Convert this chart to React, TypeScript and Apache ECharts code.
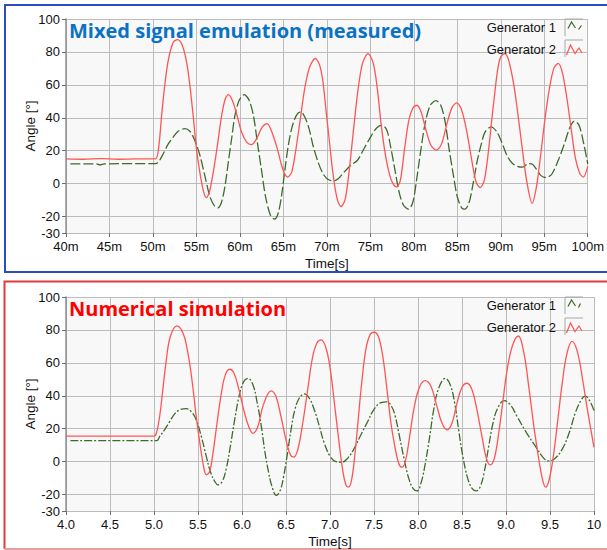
import React, { useEffect, useRef } from 'react';
import * as echarts from 'echarts';

// Generator rotor angles [deg] vs time. Measured run: time in ms; simulation: time in s.
const measuredGen1: [number, number][] = [
  [40.5, 12], [43.5, 12], [43.9, 11.4], [44.4, 12], [50.27, 12.2], [50.64, 13.2], [51.2, 18.3], [51.78, 24.3],
  [52.35, 28.4], [52.9, 31.8], [53.67, 33.4], [54.24, 31.8], [54.8, 26.4], [55.4, 17.2], [55.95, 5.1], [56.5, -7],
  [57.0, -13], [57.46, -14.7], [57.9, -11], [58.3, -1], [58.67, 13.2], [59.05, 27.4], [59.43, 41.5], [59.92, 50.6],
  [60.5, 54], [61.06, 50.6], [61.55, 41.5], [62.0, 25.3], [62.46, 9.1], [62.95, -8], [63.5, -19], [63.98, -21.6],
  [64.4, -18], [64.8, -7], [65.19, 9.1], [65.57, 23.3], [66.0, 34.5], [66.5, 41.5], [67.0, 43.6], [67.46, 40.5],
  [67.95, 33.4], [68.4, 23.3], [68.98, 13.2], [69.55, 6.1], [70.1, 2.7], [70.8, 1.7], [71.33, 3.1], [72.0, 7.1],
  [72.77, 11.2], [73.52, 14.2], [74.28, 21.3], [75.04, 28.4], [75.72, 33.8], [76.36, 35.5], [76.9, 32.4], [77.3, 23.3],
  [77.8, 9.1], [78.3, -5], [78.8, -13], [79.4, -15.5], [79.9, -11], [80.34, 3.1], [80.83, 21.3], [81.33, 37.5],
  [81.9, 47.6], [82.54, 50.4], [83.1, 47.6], [83.6, 37.5], [84.05, 21.3], [84.55, 5.1], [85.0, -8], [85.5, -14.7],
  [85.87, -15.5], [86.33, -12], [86.78, -1], [87.27, 13.2], [87.77, 24.3], [88.2, 31.4], [88.9, 34.5], [89.55, 31.4],
  [90.1, 25.3], [90.7, 17.2], [91.3, 12.5], [91.9, 10.5], [92.5, 10], [93.2, 12.2], [93.65, 11.8], [94.2, 8],
  [94.6, 5], [95.0, 3.8], [95.4, 4], [95.9, 6], [96.6, 14], [97.3, 24], [97.9, 33.5], [98.45, 38], [99.0, 35.5],
  [99.55, 24], [100, 12],
];

const measuredGen2: [number, number][] = [
  [40, 15], [42, 14.8], [44, 15.2], [46, 14.8], [48, 15], [50.27, 15], [50.64, 21.3], [51.0, 41.5], [51.4, 61.8],
  [51.8, 76], [52.35, 86], [52.84, 87.5], [53.37, 84], [53.86, 74], [54.24, 60], [54.62, 41.5], [55.0, 21.3],
  [55.45, 5], [55.83, -5], [56.14, -8.5], [56.5, -5], [57.0, 9], [57.46, 25], [57.9, 41.5], [58.33, 51.7],
  [58.67, 54], [59.17, 50], [59.66, 41.5], [60.19, 31.4], [60.8, 25], [61.33, 23.7], [61.93, 27.4], [62.58, 34.5],
  [63.14, 36.5], [63.67, 31.4], [64.24, 22.3], [64.8, 11], [65.19, 5.5], [65.5, 4], [65.95, 7], [66.33, 17],
  [66.9, 37.5], [67.46, 58], [68.03, 71], [68.67, 76], [69.17, 72], [69.55, 61.8], [69.92, 43.6], [70.3, 25.3],
  [70.68, 7], [71.17, -9], [71.63, -14], [72.08, -10], [72.46, 3], [72.84, 21.3], [73.2, 39.5], [73.6, 57.7],
  [74.1, 73], [74.73, 79], [75.34, 73], [75.8, 57.7], [76.25, 35.5], [76.74, 17.2], [77.23, 5], [77.6, 0],
  [78.0, -2], [78.45, 2], [78.94, 21.3], [79.43, 38.5], [79.9, 46], [80.34, 47.6], [80.83, 43.6], [81.4, 32.4],
  [81.97, 23.3], [82.6, 20.3], [83.2, 24.3], [83.86, 37.5], [84.43, 46.6], [84.92, 49], [85.5, 44.6], [86.06, 32.4],
  [86.63, 15.2], [87.16, 1], [87.65, -2.4], [88.1, 2], [88.48, 15.2], [88.9, 35.5], [89.28, 53.7], [89.66, 69.9],
  [90.0, 77], [90.45, 79], [90.9, 75], [91.5, 60], [92.0, 41], [92.5, 20], [93.0, 1], [93.6, -12], [94.1, -2],
  [94.6, 18], [95.1, 40], [95.6, 58], [96.1, 70], [96.6, 73], [97.1, 67], [97.6, 52], [98.1, 33], [98.6, 15],
  [99.1, 6], [99.5, 4], [100, 10.5],
];

const simulatedGen1: [number, number][] = [
  [4.05, 12.8], [5.03, 12.8], [5.064, 15.2], [5.12, 19.3], [5.178, 24.3], [5.235, 29], [5.29, 31.4], [5.367, 32.2],
  [5.424, 30.4], [5.48, 25.3], [5.538, 15.2], [5.595, 3], [5.64, -6], [5.69, -12], [5.727, -14.1], [5.776, -12],
  [5.822, -4], [5.867, 9.1], [5.913, 24.3], [5.962, 38.5], [6.01, 47.6], [6.068, 50.6], [6.125, 46.6], [6.17, 36.5],
  [6.22, 21.3], [6.26, 6], [6.3, -6], [6.34, -15], [6.39, -20.5], [6.436, -17.2], [6.473, -9], [6.511, 3],
  [6.557, 19.3], [6.6, 31.4], [6.65, 38.5], [6.708, 41.1], [6.765, 38.5], [6.822, 31.4], [6.88, 21.3], [6.935, 11.2],
  [7.004, 3], [7.068, 0], [7.133, -0.4], [7.2, 2], [7.276, 8.1], [7.35, 16.2], [7.428, 24.3], [7.5, 31.8],
  [7.58, 35.9], [7.644, 36.3], [7.7, 33.5], [7.742, 27.4], [7.79, 15.2], [7.845, 1], [7.894, -10], [7.943, -16.2],
  [7.99, -17.8], [8.034, -13.1], [8.083, -1], [8.133, 15.2], [8.178, 31.4], [8.235, 44.6], [8.31, 50.6], [8.367, 46.6],
  [8.417, 35.5], [8.462, 19.3], [8.51, 3], [8.564, -10], [8.614, -16.2], [8.663, -17.8], [8.708, -15.1], [8.754, -6],
  [8.803, 9.1], [8.852, 23.3], [8.905, 32.4], [8.98, 37], [9.05, 34.5], [9.13, 27], [9.23, 17.8], [9.33, 9.7],
  [9.42, 2.6], [9.48, 0.4], [9.55, 1.6], [9.64, 7.7], [9.72, 17.8], [9.79, 30], [9.86, 38], [9.9, 39.8],
  [9.95, 37], [10, 31],
];

const simulatedGen2: [number, number][] = [
  [4.0, 15.5], [5.0, 15.5], [5.027, 17.2], [5.064, 27.4], [5.1, 43.6], [5.14, 61.8], [5.186, 76], [5.26, 82.4],
  [5.33, 78], [5.386, 65.8], [5.436, 47.6], [5.48, 27.3], [5.527, 9.1], [5.564, -3], [5.595, -8], [5.633, -6],
  [5.67, 5.1], [5.716, 23.3], [5.765, 41.5], [5.81, 52.7], [5.86, 56.1], [5.909, 53.7], [5.966, 43.6], [6.02, 31.4],
  [6.076, 21.3], [6.125, 17.2], [6.18, 21.3], [6.24, 34], [6.33, 43], [6.386, 39.5], [6.443, 27.4], [6.5, 13.2],
  [6.55, 4.1], [6.587, 2.7], [6.633, 7.1], [6.69, 23.3], [6.746, 43.6], [6.8, 62.8], [6.85, 71.9], [6.9, 73.9],
  [6.955, 68.9], [7.004, 55.7], [7.05, 35.5], [7.095, 15.2], [7.144, -5], [7.18, -14.1], [7.21, -15.5], [7.246, -11],
  [7.284, 5.1], [7.32, 25.3], [7.36, 47.6], [7.41, 68.9], [7.46, 77.6], [7.504, 78.6], [7.55, 76], [7.6, 63.8],
  [7.648, 43.6], [7.693, 23.3], [7.73, 11.2], [7.78, -1], [7.818, -3.4], [7.856, 0], [7.905, 15.2], [7.958, 33.4],
  [8.02, 45.6], [8.083, 49.2], [8.148, 45.6], [8.216, 33.4], [8.273, 23.3], [8.33, 19.3], [8.386, 23.3], [8.443, 35.5],
  [8.5, 45.2], [8.557, 47.6], [8.614, 43.6], [8.67, 31.4], [8.727, 15.2], [8.777, 2], [8.82, -2], [8.867, 2],
  [8.917, 17.2], [8.962, 35.5], [9.01, 54.7], [9.07, 69.9], [9.14, 76.3], [9.2, 67], [9.26, 45], [9.32, 20],
  [9.38, -1], [9.42, -12], [9.45, -15.5], [9.49, -11], [9.54, 4], [9.59, 26], [9.64, 48], [9.69, 65], [9.75, 73],
  [9.81, 67], [9.87, 50], [9.93, 30], [10, 8.7],
];

const angleTicks = [-30, -20, 0, 20, 40, 60, 80, 100];
const seriesNames = ['Generator 1', 'Generator 2'];
const panelTitles = ['Mixed signal emulation (measured)', 'Numerical simulation'];

const FONT = '"Liberation Sans", Arial, sans-serif';
const TITLE_FONT = '"Open Sans", sans-serif';
const GREEN = '#3d6b2b';
const RED = '#ff5454';
const TEXT = '#111111';
const GRID_LINE = '#bcbcbc';

const PLOT_LEFT = 66;
const PLOT_WIDTH = 528;
const PLOT_HEIGHT = 214;
const PANEL_TOPS = [19, 297];

function yAxis(gridIndex: number) {
  return {
    type: 'value',
    gridIndex,
    min: -30,
    max: 100,
    name: 'Angle [°]',
    nameLocation: 'middle',
    nameGap: 29,
    nameMoveOverlap: false,
    nameRotate: 90,
    nameTextStyle: { fontFamily: FONT, fontSize: 13.5, color: TEXT },
    axisLine: { show: true, onZero: false, lineStyle: { color: '#8e8e8e', width: 1.5 } },
    axisTick: { show: true, length: 4, customValues: angleTicks, lineStyle: { color: '#6e6e6e' } },
    axisLabel: { customValues: angleTicks, margin: 6, fontFamily: FONT, fontSize: 13, color: TEXT },
    splitLine: { show: true, lineStyle: { color: GRID_LINE, width: 1 } },
  };
}

function xAxis(gridIndex: number, min: number, max: number, interval: number, fmt: (v: number) => string) {
  return {
    type: 'value',
    gridIndex,
    min,
    max,
    interval,
    name: 'Time[s]',
    nameLocation: 'middle',
    nameGap: 23,
    nameMoveOverlap: false,
    nameTextStyle: { fontFamily: FONT, fontSize: 13.5, color: TEXT },
    axisLine: { show: false, onZero: false },
    axisTick: { show: true, length: 4, lineStyle: { color: '#6e6e6e' } },
    axisLabel: { margin: 7, fontFamily: FONT, fontSize: 13, color: TEXT, formatter: fmt },
    splitLine: { show: true, lineStyle: { color: GRID_LINE, width: 1 } },
  };
}

function lineSeries(name: string, axisIndex: number, data: [number, number][], color: string, dash: any, smooth: number) {
  return {
    type: 'line',
    name,
    xAxisIndex: axisIndex,
    yAxisIndex: axisIndex,
    data,
    showSymbol: false,
    smooth,
    lineStyle: { color, width: 1.3, type: dash },
    itemStyle: { color },
  };
}

// Legend block (labels + framed line samples) in the upper-right corner of a panel
function legendGraphics(dy: number, gen1Dash: boolean) {
  const els: any[] = [];
  const rows = [27.7, 49];
  seriesNames.forEach((name, i) => {
    els.push({
      type: 'text',
      z: 100,
      style: {
        text: name,
        x: 556,
        y: rows[i] + dy,
        align: 'right',
        verticalAlign: 'middle',
        fontFamily: FONT,
        fontSize: 13,
        fill: TEXT,
      },
    });
    const top = (i === 0 ? 19 : 40) + dy;
    els.push({
      type: 'polyline',
      z: 100,
      shape: { points: [[583, top], [565, top], [565, top + 17]] },
      style: { stroke: '#a8a8a8', lineWidth: 1, fill: 'none' },
    });
  });
  els.push({
    type: 'polyline',
    z: 100,
    shape: { points: [[568, 28.5 + dy], [571.5, 22 + dy], [575.5, 28 + dy]] },
    style: { stroke: GREEN, lineWidth: 1.2, fill: 'none' },
  });
  els.push({
    type: 'line',
    z: 100,
    shape: { x1: 578.5, y1: 29.5 + dy, x2: gen1Dash ? 581.5 : 580.5, y2: 25.5 + dy },
    style: { stroke: GREEN, lineWidth: 1.2 },
  });
  els.push({
    type: 'polyline',
    z: 100,
    shape: { points: [[566.5, 55 + dy], [570.5, 45 + dy], [575, 53.5 + dy], [579, 48 + dy], [582, 53 + dy]] },
    style: { stroke: RED, lineWidth: 1.2, fill: 'none' },
  });
  return els;
}

export default function App() {
  const ref = useRef<HTMLDivElement>(null);

  useEffect(() => {
    if (!ref.current) return;
    const chart = echarts.init(ref.current, undefined, { renderer: 'svg' });

    const option: any = {
      animation: false,
      backgroundColor: '#ffffff',
      grid: PANEL_TOPS.map((top) => ({
        left: PLOT_LEFT,
        top,
        width: PLOT_WIDTH,
        height: PLOT_HEIGHT,
        show: true,
        backgroundColor: '#f8f8f8',
        borderWidth: 0,
      })),
      xAxis: [
        xAxis(0, 40, 100, 5, (v: number) => `${v}m`),
        xAxis(1, 4, 10, 0.5, (v: number) => (v === 10 ? '10' : v.toFixed(1))),
      ],
      yAxis: [yAxis(0), yAxis(1)],
      series: [
        lineSeries(seriesNames[0], 0, measuredGen1, GREEN, [10, 3], 0.3),
        lineSeries(seriesNames[1], 0, measuredGen2, RED, 'solid', 0.3),
        lineSeries(seriesNames[0], 1, simulatedGen1, GREEN, [8, 2, 2, 2], 0.4),
        lineSeries(seriesNames[1], 1, simulatedGen2, RED, 'solid', 0.4),
      ],
      graphic: [
        // panel frames
        {
          type: 'rect',
          shape: { x: 5, y: 5, width: 620, height: 267 },
          style: { fill: 'none', stroke: '#2b4cc2', lineWidth: 2 },
          silent: true,
        },
        {
          type: 'polyline',
          shape: { points: [[620, 281.5], [4.5, 281.5], [4.5, 549]] },
          style: { fill: 'none', stroke: '#e23b3b', lineWidth: 2 },
          silent: true,
        },
        {
          type: 'line',
          shape: { x1: 4.5, y1: 549, x2: 620, y2: 549 },
          style: { stroke: '#e6a0a0', lineWidth: 2 },
          silent: true,
        },
        {
          type: 'text',
          z: 100,
          style: {
            text: panelTitles[0],
            x: 69,
            y: 30,
            verticalAlign: 'middle',
            fontFamily: TITLE_FONT,
            fontWeight: 'bold',
            fontSize: 20,
            fill: '#0a72c4',
          },
        },
        {
          type: 'text',
          z: 100,
          style: {
            text: panelTitles[1],
            x: 69,
            y: 308,
            verticalAlign: 'middle',
            fontFamily: TITLE_FONT,
            fontWeight: 'bold',
            fontSize: 20,
            fill: '#ff0000',
          },
        },
        ...legendGraphics(0, true),
        ...legendGraphics(278, false),
      ],
    };

    chart.setOption(option);
    return () => chart.dispose();
  }, []);

  return (
    <div
      ref={ref}
      style={{ position: 'absolute', left: 0, top: 0, width: 607, height: 550 }}
    />
  );
}
